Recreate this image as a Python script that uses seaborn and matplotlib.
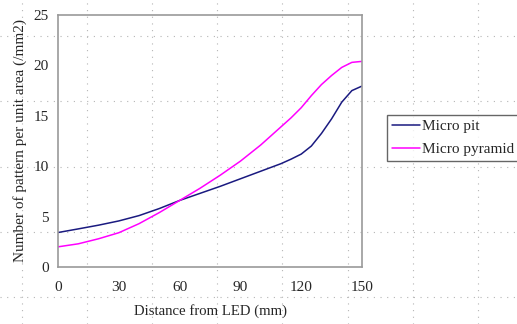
import matplotlib
matplotlib.use("Agg")
import matplotlib.pyplot as plt
from matplotlib.lines import Line2D
import seaborn as sns
import pandas as pd

distance = [0, 10, 20, 30, 40, 50, 60, 70, 80, 90, 100, 110, 115, 120, 125, 130, 135, 140, 145, 150]
micro_pit = [3.42, 3.78, 4.15, 4.57, 5.1, 5.8, 6.6, 7.3, 8.0, 8.75, 9.5, 10.25, 10.7, 11.2, 12.0, 13.25, 14.7, 16.35, 17.5, 17.95]
micro_pyramid = [2.0, 2.3, 2.8, 3.4, 4.3, 5.4, 6.6, 7.8, 9.1, 10.5, 12.1, 13.9, 14.8, 15.8, 17.0, 18.1, 19.0, 19.8, 20.3, 20.4]
series_names = ["Micro pit", "Micro pyramid"]
series_colors = ["#1a1a80", "#ff00ff"]
x_ticks = [0, 30, 60, 90, 120, 150]
y_ticks = [0, 5, 10, 15, 20, 25]

df = pd.DataFrame({
    "Distance": distance * 2,
    "Value": micro_pit + micro_pyramid,
    "Series": [series_names[0]] * len(distance) + [series_names[1]] * len(distance),
})

sns.set_style("white")
plt.rcParams["font.family"] = ["Liberation Serif", "DejaVu Serif"]

W, H = 517, 324
fig = plt.figure(figsize=(W / 100, H / 100), dpi=100)
ax = fig.add_axes([58 / W, 1 - 267 / H, (362 - 58) / W, (267 - 15) / H])
ax.patch.set_alpha(0)

# background dotted page grid
for xp in [21.5, 86.7, 151.7, 216.7, 282.3, 347.7, 413, 478]:
    fig.add_artist(Line2D([xp / W, xp / W], [0, 1], transform=fig.transFigure,
                          color="#b5b5b5", lw=0.8, ls=(0, (1, 5)), zorder=-5))
for yp in [36, 101, 166.7, 231.7, 297]:
    fig.add_artist(Line2D([0, 1], [1 - yp / H, 1 - yp / H], transform=fig.transFigure,
                          color="#b5b5b5", lw=0.8, ls=(0, (1, 5)), zorder=-5))

sns.lineplot(data=df, x="Distance", y="Value", hue="Series", palette=series_colors,
             ax=ax, linewidth=1.1, legend=False)

ax.set_xlim(0, 150)
ax.set_ylim(0, 25)
ax.set_xticks(x_ticks)
ax.set_yticks(y_ticks)
for s in ax.spines.values():
    s.set_color("#9a9a9a")
    s.set_linewidth(1.2)
ax.tick_params(axis="x", direction="in", length=4, width=1, color="#808080",
               pad=10, labelsize=11)
ax.tick_params(axis="y", direction="out", length=4, width=1, color="#808080",
               pad=2.5, labelsize=11)
ax.set_xlabel("Distance from LED (mm)", fontsize=10.6, labelpad=7)
ax.set_ylabel("Number of pattern per unit area (/mm2)", fontsize=11, labelpad=5)

handles = [Line2D([], [], color=c, lw=1.1) for c in series_colors]
leg = fig.legend(handles, series_names, loc="upper left",
                 bbox_to_anchor=(387 / W, 1 - 115 / H), bbox_transform=fig.transFigure,
                 borderaxespad=0, fontsize=11, frameon=True, fancybox=False,
                 handlelength=1.85, handletextpad=0.15, borderpad=0.3, labelspacing=0.6)
leg.get_frame().set_edgecolor("#404040")
leg.get_frame().set_linewidth(1.0)

fig.savefig("out.png", dpi=100)
